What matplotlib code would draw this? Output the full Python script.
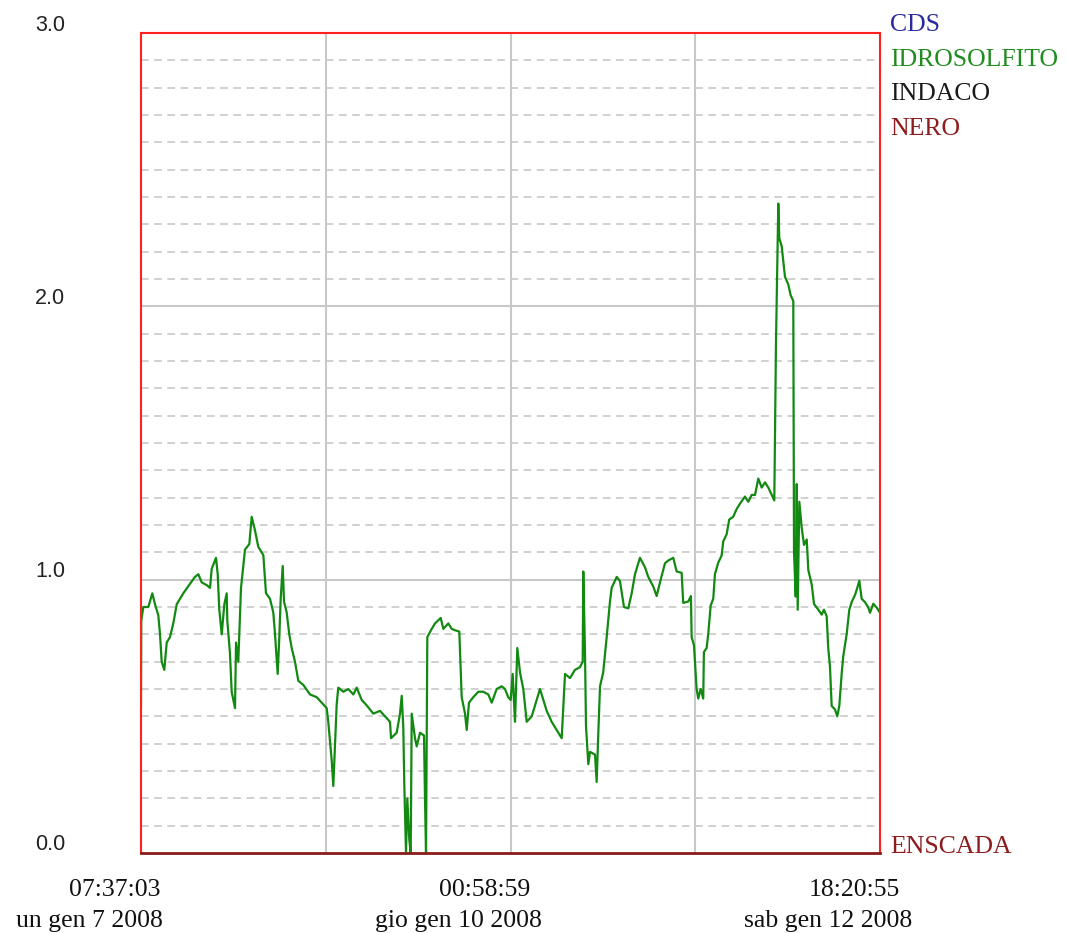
import numpy as np
import matplotlib
matplotlib.use("Agg")
from matplotlib import pyplot as plt
from matplotlib.transforms import ScaledTranslation

# hours since 07:37:03 lun gen 7 2008, value of IDROSOLFITO
hours = [0.0, 0.05, 0.41, 1.29, 2.0, 2.48, 3.06, 3.36, 3.66, 4.12, 4.55, 5.13, 5.71, 6.32,
         7.48, 8.67, 9.55, 10.14, 10.74, 11.62, 12.21, 12.51, 13.27, 13.57, 13.85, 14.28,
         14.74, 15.16, 15.27, 15.74, 16.04, 16.63, 16.81, 17.21, 17.69, 18.40, 19.16, 19.58,
         20.17, 20.75, 21.64, 22.11, 22.82, 23.40, 23.71, 24.18, 24.47, 24.71, 25.07, 25.30,
         25.77, 26.23, 26.66, 27.24, 27.83, 28.71, 29.90, 31.08, 31.97, 32.85, 33.13, 33.73,
         34.02, 34.32, 34.62, 34.90, 35.79, 36.67, 37.56, 38.16, 39.04, 39.93, 41.09, 42.28,
         43.16, 44.05, 44.23, 45.23, 45.82, 46.12, 46.40, 46.58, 46.88, 47.11, 47.46, 47.71,
         47.89, 48.47, 48.77, 49.36, 50.06, 50.24, 50.42, 50.65, 51.43, 52.01, 53.02, 53.48,
         54.36, 54.96, 55.55, 56.31, 56.73, 57.32, 57.62, 58.02, 58.78, 59.67, 60.55, 61.44,
         62.04, 62.92, 63.81, 64.39, 64.97, 65.40, 65.75, 66.16, 66.57, 67.05, 67.63, 68.23,
         69.12, 70.00, 70.58, 71.17, 71.77, 72.65, 73.54, 74.42, 75.01, 75.89, 76.77, 77.66,
         78.14, 78.24, 78.54, 78.72, 79.13, 79.43, 80.31, 80.61, 80.90, 81.20, 81.76, 82.38,
         82.96, 83.26, 84.15, 84.73, 85.44, 86.20, 86.80, 87.39, 88.27, 89.16, 89.74, 90.62,
         91.22, 91.81, 92.69, 93.27, 94.16, 94.76, 95.64, 95.92, 96.81, 97.28, 97.41, 97.82,
         98.29, 98.58, 99.00, 99.46, 99.58, 100.06, 100.34, 100.77, 101.23, 101.53, 102.11,
         102.71, 103.0, 103.60, 104.06, 104.76, 105.36, 105.96, 106.84, 107.43, 108.03,
         108.62, 109.20, 109.80, 110.39, 110.97, 111.57, 112.03, 112.33, 112.74, 112.91,
         113.34, 113.92, 114.51, 114.93, 115.39, 115.52, 115.82, 116.0, 116.17, 116.46,
         116.88, 117.29, 117.77, 118.05, 118.65, 119.06, 119.82, 120.42, 120.82, 121.30,
         121.58, 121.88, 122.18, 122.77, 123.17, 123.53, 123.95, 124.23, 124.83, 125.30,
         125.72, 126.31, 126.71, 127.07, 127.49, 128.07, 128.66, 128.96, 129.54, 130.14, 130.73]
idrosolfito = [0.53, 0.85, 0.90, 0.90, 0.95, 0.91, 0.87, 0.80, 0.70, 0.67, 0.77, 0.79, 0.84, 0.91,
               0.95, 0.985, 1.01, 1.02, 0.99, 0.98, 0.97, 1.04, 1.08, 1.02, 0.89, 0.80,
               0.91, 0.95, 0.85, 0.73, 0.59, 0.53, 0.77, 0.70, 0.97, 1.11, 1.13, 1.23,
               1.18, 1.12, 1.09, 0.95, 0.93, 0.88, 0.80, 0.655, 0.79, 0.93, 1.05, 0.92,
               0.88, 0.80, 0.75, 0.70, 0.63, 0.615, 0.58, 0.57, 0.55, 0.53, 0.48, 0.34,
               0.245, 0.40, 0.545, 0.605, 0.59, 0.60, 0.58, 0.605, 0.56, 0.54, 0.51, 0.52,
               0.50, 0.48, 0.42, 0.44, 0.51, 0.575, 0.46, 0.25, 0.0, 0.20, 0.05, 0.0,
               0.51, 0.42, 0.39, 0.44, 0.43, 0.20, 0.0, 0.79, 0.82, 0.84, 0.86, 0.82,
               0.84, 0.82, 0.815, 0.81, 0.57, 0.51, 0.45, 0.55, 0.57, 0.59, 0.59, 0.58,
               0.55, 0.60, 0.61, 0.60, 0.57, 0.56, 0.655, 0.48, 0.75, 0.66, 0.60, 0.48,
               0.50, 0.56, 0.60, 0.56, 0.52, 0.48, 0.45, 0.42, 0.655, 0.64, 0.67, 0.68,
               0.70, 1.03, 0.74, 0.465, 0.325, 0.37, 0.36, 0.26, 0.44, 0.61, 0.66, 0.79,
               0.92, 0.97, 1.01, 0.995, 0.90, 0.895, 0.95, 1.02, 1.08, 1.045, 1.01, 0.975,
               0.94, 0.99, 1.06, 1.07, 1.08, 1.03, 1.025, 0.915, 0.92, 0.94, 0.79, 0.76,
               0.60, 0.565, 0.60, 0.565, 0.735, 0.75, 0.80, 0.905, 0.93, 1.02, 1.062,
               1.088, 1.14, 1.166, 1.22, 1.23, 1.258, 1.278, 1.304, 1.285, 1.31,
               1.31, 1.37, 1.337, 1.356, 1.337, 1.31, 1.29, 1.866, 2.376, 2.25,
               2.22, 2.108, 2.08, 2.04, 2.02, 1.10, 0.938, 1.35, 0.89, 1.285,
               1.19, 1.127, 1.147, 1.035, 0.983, 0.911, 0.89, 0.872, 0.89, 0.866,
               0.748, 0.682, 0.538, 0.525, 0.50, 0.538, 0.656, 0.72, 0.80, 0.89,
               0.918, 0.944, 0.97, 0.996, 0.93, 0.918, 0.898, 0.879, 0.912, 0.898, 0.879]

total_hours = 130.73
ytick_vals = [0.0, 1.0, 2.0, 3.0]
ytick_labels = ["0.0", "1.0", "2.0", "3.0"]
time_labels = ["07:37:03", "00:58:59", "18:20:55"]
date_labels = ["un gen 7 2008", "gio gen 10 2008", "sab gen 12 2008"]
legend_names = ["CDS", "IDROSOLFITO", "INDACO", "NERO"]
legend_colors = ["#2b2b9e", "#1e8c1e", "#1a1a1a", "#8e1c1c"]

plt.rcParams["lines.scale_dashes"] = False

fig = plt.figure(figsize=(10.66, 9.33), dpi=100)
ax = fig.add_axes([141/1066, 80/933, 739/1066, 820/933])

ax.set_xlim(0, total_hours)
ax.set_ylim(0, 3.0)

# grid: solid at quarters and whole units, dashed every 0.1
ax.set_xticks([total_hours*q for q in (0.25, 0.5, 0.75)])
ax.set_yticks([1.0, 2.0])
ax.set_yticks(np.arange(0.1, 3.0, 0.1), minor=True)
ax.grid(which="major", color="#c8c8c8", linewidth=1.5, linestyle="-")
ax.grid(which="minor", axis="y", color="#c8c8c8", linewidth=1.2, linestyle=(0, (5.5, 4)))
ax.tick_params(which="both", length=0, labelbottom=False, labelleft=False)
ax.set_axisbelow(True)

ax.plot(hours, idrosolfito, color="#128a12", linewidth=1.6, zorder=3)

for side in ["left", "top", "right"]:
    ax.spines[side].set_color("#ff2020")
    ax.spines[side].set_linewidth(1.5)
ax.spines["bottom"].set_color("#8b1a1a")
ax.spines["bottom"].set_linewidth(2)
for s in ax.spines.values():
    s.set_zorder(4)

def px(dx, dy):
    return ScaledTranslation(dx/100, dy/100, fig.dpi_scale_trans)

# y labels, a bit above their line
ytr = ax.get_yaxis_transform()
for v, lab in zip(ytick_vals, ytick_labels):
    ax.text(0, v, lab, transform=ytr + px(-91, 8), ha="center", va="center",
            fontsize=15.5, family="Liberation Sans", color="#222222")

# time labels under the axis
xtr = ax.get_xaxis_transform()
tick_pos = [0, total_hours/2, total_hours]
for i, (t, d) in enumerate(zip(time_labels, date_labels)):
    ax.text(tick_pos[i], 0, t, transform=xtr + px(-26, -37), ha="center", va="center",
            fontsize=18.5, family="Liberation Serif", color="#111111")
    ax.text(tick_pos[i], 0, d, transform=xtr + px(-52, -68), ha="center", va="center",
            fontsize=18.5, family="Liberation Serif", color="#111111")

# names on the right
for i, (name, col) in enumerate(zip(legend_names, legend_colors)):
    ax.text(1, 1, name, transform=ax.transAxes + px(10, 8 - 34.7*i), ha="left", va="center",
            fontsize=18.5, family="Liberation Serif", color=col)
ax.text(1, 0, "ENSCADA", transform=ax.transAxes + px(10, 6), ha="left", va="center",
        fontsize=18.5, family="Liberation Serif", color="#8e1c1c")

fig.savefig("out.png", dpi=100, facecolor="white")
